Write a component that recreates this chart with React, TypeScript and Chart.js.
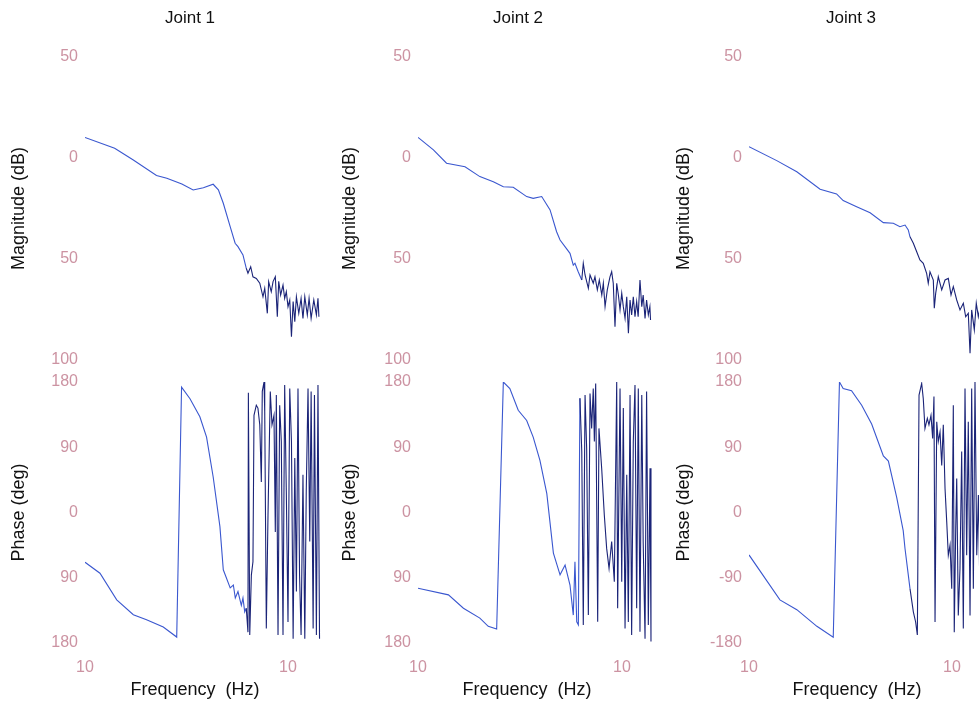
import React, { useEffect, useRef } from "react";
import { Chart, registerables } from "chart.js";

Chart.register(...registerables);

// ---------------- data ----------------
const JOINT_TITLES = ["Joint 1", "Joint 2", "Joint 3"];

const MAG_TICK_VALUES = [50, 0, -50, -100];
const MAG_TICK_LABELS = ["50", "0", "50", "100"];
const PHASE_TICK_VALUES = [180, 90, 0, -90, -180];
const PHASE_TICK_LABELS_A = ["180", "90", "0", "90", "180"];
const PHASE_TICK_LABELS_B = ["180", "90", "0", "-90", "-180"];
const FREQ_TICK_VALUES = [1, 10];
const FREQ_TICK_LABELS = ["10", "10"];

// Joint 1
const mag1Freq = [1.0, 1.4, 1.73, 2.25, 2.53, 3.0, 3.41, 3.83, 4.28, 4.54, 4.8, 5.19, 5.49, 5.67, 6.0, 6.23, 6.35, 6.55, 6.72, 6.98, 7.26, 7.53, 7.68, 7.91, 8.03, 8.27, 8.44, 8.66, 8.86, 9.0, 9.2, 9.45, 9.63, 9.81, 10.0, 10.2, 10.4, 10.6, 10.8, 11.0, 11.3, 11.6, 11.85, 12.1, 12.45, 12.7, 13.0, 13.4, 13.8, 14.05, 14.2];
const mag1Db = [10.2, 4.8, -1, -8.7, -10, -12.9, -15.8, -14.7, -13, -15.8, -22.4, -34, -42.2, -43.9, -48, -54.6, -57, -53.8, -58.8, -59.6, -62, -68.7, -64.5, -76.9, -61.2, -66.2, -61.2, -58.8, -78.6, -61, -67.8, -62.9, -69.5, -66.2, -73.6, -70.3, -88.5, -71, -81, -68.7, -76.9, -69.5, -79.4, -68.7, -77.7, -69.5, -79.4, -70.3, -77.7, -69.5, -78.6];
const ph1Freq = [1.0, 1.185, 1.433, 1.73, 2.01, 2.43, 2.83, 2.99, 3.29, 3.68, 3.97, 4.28, 4.62, 4.8, 5.19, 5.38, 5.5, 5.67, 5.89, 6.0, 6.12, 6.23, 6.35, 6.38, 6.48, 6.6, 6.72, 6.8, 6.98, 7.11, 7.26, 7.39, 7.47, 7.62, 7.68, 7.82, 7.97, 8.18, 8.34, 8.53, 8.66, 8.76, 8.93, 9.1, 9.27, 9.45, 9.63, 9.81, 10.0, 10.2, 10.4, 10.6, 10.8, 11.0, 11.2, 11.4, 11.6, 11.85, 12.1, 12.3, 12.55, 12.8, 13.0, 13.3, 13.5, 13.8, 14.05, 14.3];
const ph1Deg = [-68.6, -83.8, -120.5, -141, -148, -158, -171.8, 173, 157, 132, 104, 49, -19.5, -79, -104, -100, -118, -109, -128, -118, -137, -132, -165, 165, -169, -86, -68, 134, 148, 144, 121, 42, 167, 180, 139, -160, -4, 167, 121, 134, -27, 162, -169, 148, 98, -169, 176, 29, -151, 171, 98, -174, 75, -109, 171, -86, -169, 52, -174, 29, 171, -40, 167, -160, 162, -169, 176, -174];

// Joint 2
const mag2Freq = [1.0, 1.19, 1.38, 1.7, 2.01, 2.34, 2.62, 2.93, 3.41, 3.67, 4.04, 4.44, 4.78, 4.97, 5.56, 5.77, 5.88, 6.1, 6.35, 6.46, 6.59, 6.84, 6.97, 7.23, 7.37, 7.57, 7.74, 7.96, 8.1, 8.26, 8.47, 8.73, 8.9, 9.06, 9.24, 9.42, 9.6, 9.78, 9.97, 10.15, 10.35, 10.55, 10.75, 10.95, 11.15, 11.36, 11.58, 11.8, 12.0, 12.25, 12.5, 12.7, 12.97, 13.2, 13.46, 13.7, 13.8];
const mag2Db = [10.2, 4.0, -2.6, -4.3, -9.2, -11.7, -14.2, -14.5, -19.1, -20, -19.1, -25.7, -36.5, -40.6, -47.2, -53, -52.1, -56.3, -60.4, -52.1, -57.9, -64.5, -57.9, -62, -58.8, -65.3, -60.4, -67.8, -62, -73.6, -65.3, -58.8, -56.3, -62, -83.5, -62, -67.8, -75.2, -67, -73.6, -79.4, -68.7, -86.8, -70.3, -77.7, -68.7, -78.6, -71.1, -78.6, -60.4, -73.6, -67.8, -79.4, -70.3, -77.7, -73.6, -80.2];
const ph2Freq = [1.0, 1.41, 1.67, 2.01, 2.21, 2.43, 2.62, 2.82, 3.1, 3.41, 3.67, 3.96, 4.28, 4.61, 4.97, 5.26, 5.56, 5.77, 5.88, 6.0, 6.11, 6.22, 6.35, 6.46, 6.59, 6.71, 6.84, 6.97, 7.1, 7.23, 7.32, 7.43, 7.6, 7.71, 7.95, 8.19, 8.41, 8.64, 8.9, 9.17, 9.42, 9.52, 9.78, 9.97, 10.15, 10.35, 10.55, 10.74, 10.95, 11.15, 11.36, 11.58, 11.8, 12.02, 12.25, 12.5, 12.7, 12.97, 13.2, 13.46, 13.72, 13.87];
const ph2Deg = [-104.4, -113.6, -132, -145.7, -157, -160.8, 180, 171, 141, 127, 104, 72, 26, -56, -86, -72.5, -100, -141.5, -68, -150.7, -155, 157.5, 84, -155, 162, 88.5, -141.5, 164, 116, 171, 98, 178, -150.7, 116, 61, -3.5, -49.5, -77, -40, -95.5, 180, -132, 171, -95.5, 144, -160, 52, -151, 162, -169, 98, 176, -132, 171, -164.5, 162, -40, -174, 167, -155, 61, -178];

// Joint 3
const mag3Freq = [1.0, 1.37, 1.72, 2.24, 2.7, 2.91, 3.39, 3.95, 4.59, 5.14, 5.54, 5.87, 6.09, 6.21, 6.45, 6.7, 6.95, 7.22, 7.5, 7.64, 7.79, 8.09, 8.18, 8.31, 8.56, 8.9, 9.24, 9.59, 9.89, 10.15, 10.55, 10.95, 11.37, 11.68, 12.03, 12.27, 12.5, 12.88, 13.17, 13.48, 13.8, 14.2];
const mag3Db = [5.6, -1.3, -6.8, -15.5, -17.8, -21.1, -24.1, -27.1, -32, -32.3, -34, -33.2, -35.6, -39, -42.2, -46.4, -50.5, -52.1, -57.1, -62, -56.3, -60.4, -74.4, -67, -58.8, -65.3, -60.4, -59.6, -67.8, -63.7, -70.3, -75.2, -71.9, -78.6, -76.9, -96.7, -75.2, -85.1, -71.9, -78.6, -73, -80];
const ph3Freq = [1.0, 1.42, 1.72, 2.16, 2.6, 2.79, 2.91, 3.2, 3.59, 4.02, 4.59, 4.86, 5.34, 5.75, 5.87, 6.21, 6.45, 6.62, 6.75, 6.88, 7.09, 7.22, 7.36, 7.56, 7.7, 7.88, 8.03, 8.15, 8.25, 8.41, 8.56, 8.73, 8.9, 9.06, 9.24, 9.42, 9.59, 9.78, 9.97, 10.15, 10.26, 10.43, 10.55, 10.74, 10.95, 11.16, 11.37, 11.59, 11.81, 12.03, 12.27, 12.5, 12.74, 12.98, 13.24, 13.49, 13.8, 14.2];
const ph3Deg = [-58.5, -120.5, -134, -157, -172, 180, 171, 168, 148, 122, 78, 71, 21, -25, -50, -105, -137, -151, -169, 162, 178, 157, 116, 130, 121, 134, 102, 160, -151, 125, 98, 111, 65, 121, 33, -13, -59, -45, -105, 148, -165, -22, 47, -142, -77, 84, -160, 171, -59, 125, -142, 171, -105, 180, -59, 24, -150, 160];

const MAG_FREQS = [mag1Freq, mag2Freq, mag3Freq];
const MAG_VALUES = [mag1Db, mag2Db, mag3Db];
const PH_FREQS = [ph1Freq, ph2Freq, ph3Freq];
const PH_VALUES = [ph1Deg, ph2Deg, ph3Deg];
const PH_LABELS = [PHASE_TICK_LABELS_A, PHASE_TICK_LABELS_A, PHASE_TICK_LABELS_B];

// ---------------- layout / style ----------------
const FONT = "'Liberation Sans', Arial, Helvetica, sans-serif";
const TICK_COLOR = "#cc93a2";
const LINE_LIGHT = "#3a57cf";
const LINE_DARK = "#1b2478";
const NOISE_FROM = 6.2;

// column geometry (pixels on the page)
const COLS = [
  { left: 0, plotLeft: 85, ppd: 203, topTitleC: 190, botTitleC: 195 },
  { left: 331, plotLeft: 418, ppd: 204, topTitleC: 518, botTitleC: 527 },
  { left: 665, plotLeft: 749, ppd: 203, topTitleC: 851, botTitleC: 857 },
];
const TOP_Y = 0;
const TOP_H = 380;
const BOT_Y = 362;
const BOT_H = 344;

type Geo = { left: number; top: number; width: number; height: number };

function ChartCanvas({ geo, config }: { geo: Geo; config: any }) {
  const ref = useRef<HTMLCanvasElement | null>(null);
  useEffect(() => {
    if (!ref.current) return;
    const chart = new Chart(ref.current, config);
    return () => chart.destroy();
  }, []);
  return (
    <canvas
      ref={ref}
      width={geo.width}
      height={geo.height}
      style={{ position: "absolute", left: geo.left, top: geo.top, width: geo.width, height: geo.height, display: "block" }}
    />
  );
}

function makeConfig(opts: {
  freqs: number[];
  values: number[];
  isMag: boolean;
  axisWidth: number;
  xMax: number;
  titleText: string;
  tickLabels: string[];
}) {
  const { freqs, values, isMag, axisWidth, xMax, titleText, tickLabels } = opts;
  const pts = freqs.map((f, i) => ({ x: f, y: values[i] }));
  const tickValues = isMag ? MAG_TICK_VALUES : PHASE_TICK_VALUES;
  return {
    type: "line",
    data: {
      datasets: [
        {
          data: pts,
          borderColor: LINE_LIGHT,
          borderWidth: 1.1,
          pointRadius: 0,
          tension: 0,
          fill: false,
          segment: {
            borderColor: (ctx: any) => (ctx.p0.parsed.x >= NOISE_FROM ? LINE_DARK : LINE_LIGHT),
          },
        },
      ],
    },
    options: {
      animation: false,
      responsive: false,
      maintainAspectRatio: false,
      layout: {
        padding: isMag ? { top: 0, bottom: 0, left: 0, right: 0 } : { top: 20, bottom: 5.4, left: 0, right: 0 },
      },
      plugins: {
        legend: { display: false },
        tooltip: { enabled: false },
        title: {
          display: true,
          text: titleText,
          position: isMag ? "top" : "bottom",
          color: "#111",
          font: { family: FONT, size: isMag ? 17 : 18, weight: "normal" },
          padding: isMag ? { top: 7.8, bottom: 28.8 } : { top: 2, bottom: 0 },
        },
      },
      scales: {
        x: {
          type: "logarithmic",
          min: 1,
          max: xMax,
          grid: { display: false, drawTicks: false, tickLength: 0 },
          border: { display: false },
          ticks: {
            display: !isMag,
            color: TICK_COLOR,
            font: { family: FONT, size: 16 },
            padding: 15,
            autoSkip: false,
            maxRotation: 0,
            callback: (_v: any, i: number) => FREQ_TICK_LABELS[i],
          },
          afterBuildTicks: (s: any) => {
            s.ticks = FREQ_TICK_VALUES.map((v) => ({ value: v }));
          },
          afterFit: (s: any) => {
            s.height = isMag ? 20 : 34;
          },
        },
        y: {
          type: "linear",
          min: isMag ? -100 : -180,
          max: isMag ? 50 : 180,
          grid: { display: false, drawTicks: false, tickLength: 0 },
          border: { display: false },
          ticks: {
            stepSize: isMag ? 50 : 90,
            color: TICK_COLOR,
            font: { family: FONT, size: 16 },
            padding: 7,
            callback: (v: any) => {
              const k = tickValues.indexOf(Number(v));
              return k >= 0 ? tickLabels[k] : "";
            },
          },
          title: {
            display: true,
            text: isMag ? "Magnitude (dB)" : "Phase (deg)",
            color: "#111",
            font: { family: FONT, size: 18 },
            padding: { top: 8.7, bottom: 0 },
          },
          afterFit: (s: any) => {
            s.width = axisWidth;
          },
        },
      },
    },
  };
}

export default function App() {
  const panels: { key: string; geo: Geo; config: any }[] = [];
  COLS.forEach((c, ci) => {
    const axisWidth = c.plotLeft - c.left;
    const topW = 2 * (c.topTitleC - c.left);
    const botW = 2 * (c.botTitleC - c.left);
    const topMax = Math.pow(10, (c.left + topW - c.plotLeft) / c.ppd);
    const botMax = Math.pow(10, (c.left + botW - c.plotLeft) / c.ppd);
    panels.push({
      key: "m" + ci,
      geo: { left: c.left, top: TOP_Y, width: topW, height: TOP_H },
      config: makeConfig({
        freqs: MAG_FREQS[ci],
        values: MAG_VALUES[ci],
        isMag: true,
        axisWidth,
        xMax: topMax,
        titleText: JOINT_TITLES[ci],
        tickLabels: MAG_TICK_LABELS,
      }),
    });
    panels.push({
      key: "p" + ci,
      geo: { left: c.left, top: BOT_Y, width: botW, height: BOT_H },
      config: makeConfig({
        freqs: PH_FREQS[ci],
        values: PH_VALUES[ci],
        isMag: false,
        axisWidth,
        xMax: botMax,
        titleText: "Frequency  (Hz)",
        tickLabels: PH_LABELS[ci],
      }),
    });
  });
  return (
    <div
      style={{
        position: "fixed",
        left: 0,
        top: 0,
        width: 979,
        height: 706,
        overflow: "hidden",
        background: "#ffffff",
      }}
    >
      {panels.map((p) => (
        <ChartCanvas key={p.key} geo={p.geo} config={p.config} />
      ))}
    </div>
  );
}
